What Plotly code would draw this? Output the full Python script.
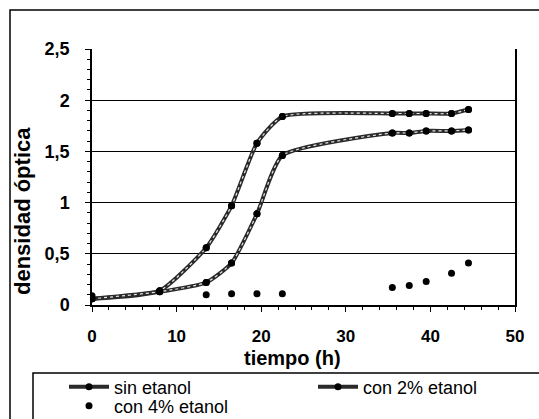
import plotly.graph_objects as go

# ---- data ----
t_lines = [0, 8, 13.5, 16.5, 19.5, 22.5, 35.5, 37.5, 39.5, 42.5, 44.5]
sin_etanol = [0.06, 0.14, 0.56, 0.97, 1.58, 1.84, 1.87, 1.87, 1.87, 1.87, 1.91]
con_2 = [0.06, 0.13, 0.22, 0.41, 0.89, 1.46, 1.68, 1.68, 1.70, 1.70, 1.71]
t_4 = [0, 13.5, 16.5, 19.5, 22.5, 35.5, 37.5, 39.5, 42.5, 44.5]
con_4 = [0.09, 0.10, 0.11, 0.11, 0.11, 0.17, 0.19, 0.23, 0.31, 0.41]

names = ["sin etanol", "con 2% etanol", "con 4% etanol"]
x_ticks = [0, 10, 20, 30, 40, 50]
y_ticks = [0, 0.5, 1, 1.5, 2, 2.5]

# ---- geometry helpers (pixel -> paper) ----
W, H = 539, 419
L, R, T, B = 92, 515, 49, 305


def px(x):
    return (x - L) / (R - L)


def py(y):
    return (B - y) / (B - T)


FONT = "Liberation Sans, Arial, sans-serif"
DARK = "#2a2a2a"
SMOOTH = 0.55

fig = go.Figure()

legends = ["legend", "legend2"]
for i, (yv, nm) in enumerate([(sin_etanol, names[0]), (con_2, names[1])]):
    fig.add_trace(go.Scatter(
        x=t_lines, y=yv, mode="lines+markers", name=nm,
        line=dict(color=DARK, width=4, shape="spline", smoothing=SMOOTH),
        marker=dict(color="black", size=7, symbol="circle"),
        legend=legends[i], showlegend=True))
    fig.add_trace(go.Scatter(
        x=t_lines, y=yv, mode="lines",
        line=dict(color="#e6e6e6", width=1.2, shape="spline", smoothing=SMOOTH, dash="dot"),
        showlegend=False, hoverinfo="skip"))
    fig.add_trace(go.Scatter(
        x=t_lines, y=yv, mode="markers",
        marker=dict(color="black", size=7, symbol="circle"),
        showlegend=False, hoverinfo="skip"))

fig.add_trace(go.Scatter(
    x=t_4, y=con_4, mode="markers", name=names[2],
    marker=dict(color="black", size=7, symbol="circle"),
    legend="legend3", showlegend=True))

leg_common = dict(bgcolor="rgba(0,0,0,0)", borderwidth=0,
                  font=dict(family=FONT, size=18, color="black"),
                  xanchor="left", yanchor="middle", itemwidth=40)

fig.update_layout(
    width=W, height=H,
    margin=dict(l=L, r=W - R, t=T, b=H - B, autoexpand=False),
    paper_bgcolor="white", plot_bgcolor="white",
    separators=",.",
    font=dict(family=FONT, color="black"),
    legend=dict(x=px(64), y=py(387), **leg_common),
    legend2=dict(x=px(313), y=py(387), **leg_common),
    legend3=dict(x=px(64), y=py(406), **leg_common),
    xaxis=dict(range=[0, 50], tickvals=x_ticks, ticks="outside", ticklen=5,
               tickcolor="black", showline=True, linecolor="black", linewidth=1.5,
               showgrid=False, zeroline=False, automargin=False,
               tickfont=dict(family=FONT, size=17, color="black", weight="bold"),
               ticklabelstandoff=10,
               minor=dict(dtick=2, ticks="outside", ticklen=3, tickcolor="black")),
    yaxis=dict(range=[0, 2.5], tickvals=y_ticks, ticks="outside", ticklen=5,
               tickcolor="black", showline=True, linecolor="black", linewidth=1.5,
               mirror=True, automargin=False,
               showgrid=True, gridcolor="black", gridwidth=1, zeroline=False,
               tickfont=dict(family=FONT, size=18, color="black", weight="bold"),
               ticklabelstandoff=12,
               minor=dict(dtick=0.1, ticks="outside", ticklen=3, tickcolor="black")),
    shapes=[
        dict(type="rect", xref="paper", yref="paper",
             x0=px(10), x1=px(560), y0=py(10), y1=py(440),
             line=dict(color="black", width=1.5), layer="below"),
        dict(type="rect", xref="paper", yref="paper",
             x0=px(33), x1=px(560), y0=py(373), y1=py(440),
             line=dict(color="black", width=1.5), layer="below"),
    ],
    annotations=[
        dict(text="<b>densidad óptica</b>", xref="paper", yref="paper",
             x=px(22), y=py(211), xanchor="center", yanchor="middle",
             textangle=-90, showarrow=False,
             font=dict(family=FONT, size=22, color="black")),
        dict(text="<b>tiempo (h)</b>", xref="paper", yref="paper",
             x=px(292), y=py(358), xanchor="center", yanchor="middle",
             showarrow=False, font=dict(family=FONT, size=20, color="black")),
    ],
)

fig.write_html("out.html")
